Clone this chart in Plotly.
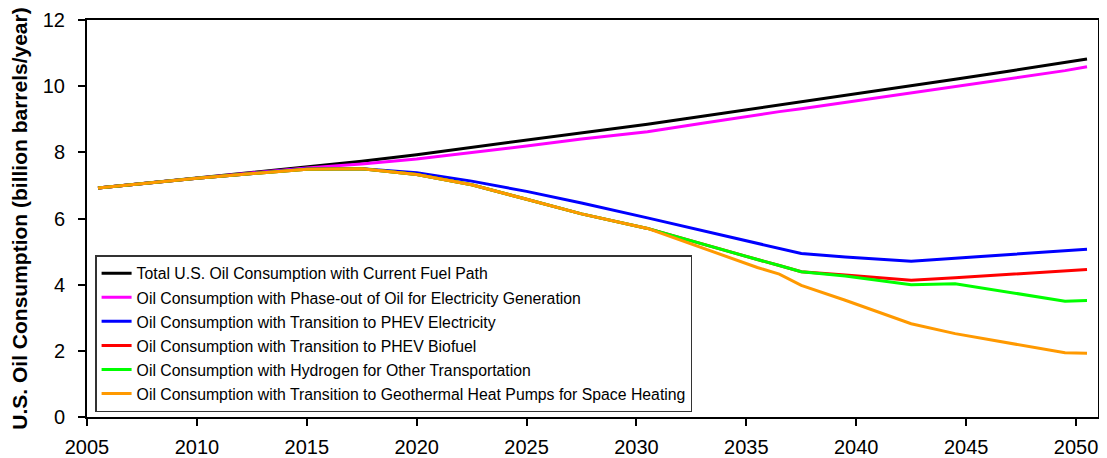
import plotly.graph_objects as go

years = [2005.5, 2010, 2015, 2017.5, 2020, 2022.5, 2025, 2027.5, 2030.5, 2033,
         2035.5, 2036.5, 2037.5, 2039.5, 2042.5, 2044.5, 2047, 2049.5, 2050.5]

total_current = [6.92, 7.22, 7.55, 7.73, 7.93, 8.15, 8.37, 8.58, 8.85, 9.09,
                 9.33, 9.43, 9.52, 9.72, 10.01, 10.21, 10.46, 10.72, 10.82]
phaseout_elec = [6.92, 7.22, 7.53, 7.65, 7.80, 7.99, 8.19, 8.40, 8.62, 8.88,
                 9.14, 9.23, 9.32, 9.51, 9.79, 9.98, 10.22, 10.47, 10.59]
phev_elec = [6.92, 7.22, 7.50, 7.50, 7.38, 7.13, 6.82, 6.47, 6.02, 5.64,
             5.25, 5.10, 4.94, 4.84, 4.71, 4.80, 4.92, 5.04, 5.07]
phev_biofuel = [6.92, 7.22, 7.49, 7.50, 7.33, 7.02, 6.58, 6.14, 5.70, 5.22,
                4.76, 4.58, 4.39, 4.29, 4.13, 4.21, 4.31, 4.42, 4.46]
hydrogen = [6.92, 7.22, 7.49, 7.50, 7.33, 7.02, 6.58, 6.14, 5.70, 5.22,
            4.76, 4.58, 4.39, 4.26, 4.00, 4.03, 3.76, 3.50, 3.52]
geothermal = [6.92, 7.22, 7.49, 7.50, 7.33, 7.02, 6.58, 6.14, 5.70, 5.10,
              4.52, 4.32, 3.98, 3.53, 2.82, 2.52, 2.22, 1.94, 1.93]

series_names = [
    "Total U.S. Oil Consumption with Current Fuel Path",
    "Oil Consumption with Phase-out of Oil for Electricity Generation",
    "Oil Consumption with Transition to PHEV Electricity",
    "Oil Consumption with Transition to PHEV Biofuel",
    "Oil Consumption with Hydrogen for Other Transportation",
    "Oil Consumption with Transition to Geothermal Heat Pumps for Space Heating",
]
series_values = [total_current, phaseout_elec, phev_elec, phev_biofuel, hydrogen, geothermal]
series_colors = ["#000000", "#FF00FF", "#0000FF", "#FF0000", "#00FF00", "#FF9900"]

x_ticks = [2005, 2010, 2015, 2020, 2025, 2030, 2035, 2040, 2045, 2050]
y_ticks = [0, 2, 4, 6, 8, 10, 12]

FONT = "Liberation Sans, Arial, sans-serif"

fig = go.Figure()
for i, (name, vals, col) in enumerate(zip(series_names, series_values, series_colors)):
    fig.add_trace(go.Scatter(
        x=years, y=vals, mode="lines", name=name,
        line=dict(color=col, width=3),
        legendgroup=f"g{i}",
    ))

# page body has an 8px default margin, so the figure is sized to fit the window
fig.update_layout(
    width=1099, height=450,
    margin=dict(l=79, r=9, t=12, b=41),
    paper_bgcolor="white", plot_bgcolor="white",
    font=dict(family=FONT, color="black"),
    showlegend=True,
    legend=dict(
        x=0.008, y=0.408, xanchor="left", yanchor="top",
        bgcolor="white", bordercolor="#333333", borderwidth=1.5,
        font=dict(size=15.8, family=FONT, color="black"),
        itemwidth=30, tracegroupgap=0.5,
    ),
    xaxis=dict(
        range=[2005, 2051], tickvals=x_ticks, ticktext=[str(v) for v in x_ticks],
        showgrid=False, zeroline=False, automargin=False,
        showline=True, linecolor="black", linewidth=2, mirror=True,
        ticks="outside", ticklen=7, tickwidth=1.5, tickcolor="black",
        tickfont=dict(size=20, family=FONT),
        ticklabelstandoff=4,
    ),
    yaxis=dict(
        range=[0, 12], tickvals=y_ticks, ticktext=[str(v) for v in y_ticks],
        showgrid=False, zeroline=False, automargin=False,
        showline=True, linecolor="black", linewidth=2, mirror=True,
        ticks="outside", ticklen=7, tickwidth=1.5, tickcolor="black",
        tickfont=dict(size=20, family=FONT),
        ticklabelstandoff=9,
        title=dict(text="<b>U.S. Oil Consumption (billion barrels/year)</b>",
                   font=dict(size=21, family=FONT), standoff=10),
    ),
)

fig.write_html("out.html")
